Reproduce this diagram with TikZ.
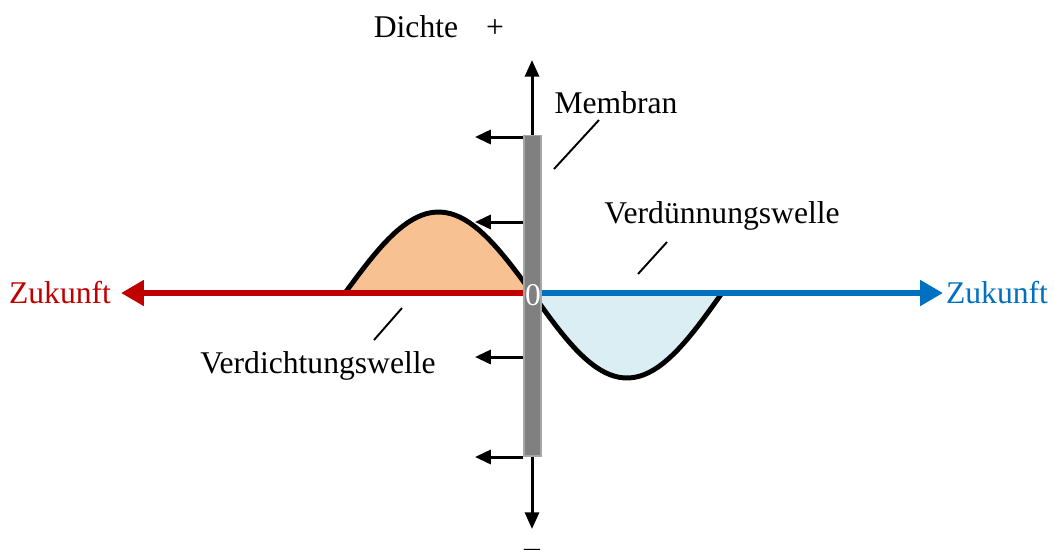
\documentclass[tikz,border=0pt]{standalone}
\usepackage{fontspec}
\setmainfont{Liberation Serif}
\usepackage{xcolor}
\usetikzlibrary{arrows.meta,positioning,calc}

\definecolor{pastred}{RGB}{192,0,0}
\definecolor{futblue}{RGB}{0,112,192}
\definecolor{humpfill}{RGB}{248,193,145}
\definecolor{dipfill}{RGB}{218,238,243}

\begin{document}
\begin{tikzpicture}[x=0.02cm, y=-0.02cm, every node/.style={font=\fontsize{18}{21}\selectfont, inner sep=0pt},
    timeline/.style={line width=3.4pt,-{Triangle[length=13pt,width=14pt]}},
    axis/.style={line width=1.7pt,{Triangle[length=9.5pt,width=8pt]}-{Triangle[length=9.5pt,width=8pt]}},
    push/.style={line width=1.7pt,-{Triangle[length=9pt,width=8pt]}},
    leader/.style={line width=1.1pt},
    wave/.style={line width=2.8pt,line join=round},
    membrane/.style={draw=gray!70,fill=gray,line width=0.6pt,minimum width=0.34cm,minimum height=6.42cm}]
    \useasboundingbox (0,0) rectangle (1054,549);

    % wave halves
    \fill[humpfill] plot[domain=0:180,samples=40] ({345+\x/180*187},{293-81*sin(\x)}) -- cycle;
    \fill[dipfill] plot[domain=0:180,samples=40] ({532+\x/180*190},{293+85*sin(\x)}) -- cycle;
    \draw[wave] plot[domain=0:180,samples=40] ({345+\x/180*187},{293-81*sin(\x)})
        -- plot[domain=0:180,samples=40] ({532+\x/180*190},{293+85*sin(\x)});

    % axes
    \coordinate (up) at (532,60);
    \coordinate (down) at (532,529);
    \coordinate (past) at (121,293);
    \coordinate (future) at (943,293);
    \draw[axis] (down) -- (up);
    \node[membrane] (mem) at (532.5,295.5) {};
    \draw[timeline,pastred] (mem.west |- past) -- (past);
    \draw[timeline,futblue] (mem.east |- future) -- (future);
    \node[white, anchor=base] (zero) at (533,305) {0};

    \foreach \y [count=\i] in {137,222,357,457}{
      \coordinate (p\i) at (475,\y);
      \draw[push] (mem.west |- p\i) -- (p\i);
    }

    % labels
    \node[anchor=base] (dichte) at (416,37) {Dichte};
    \node[anchor=base] (plus) at (495,37) {+};
    \node[anchor=base] (minus) at (532,557) {–};
    \node[anchor=base, pastred] (zleft) at (60,303) {Zukunft};
    \node[anchor=base, futblue] (zright) at (997,303) {Zukunft};
    \node[anchor=base] (memlab) at (616,113) {Membran};
    \node[anchor=base] (thin) at (722,223) {Verdünnungswelle};
    \node[anchor=base] (dense) at (318,373) {Verdichtungswelle};

    \coordinate (m1) at (554,169); \coordinate (m2) at (599,120);
    \coordinate (t1) at (638,274); \coordinate (t2) at (667,242);
    \coordinate (d1) at (374,340); \coordinate (d2) at (402,308);
    \draw[leader] (m1) -- (m2);
    \draw[leader] (t1) -- (t2);
    \draw[leader] (d1) -- (d2);
\end{tikzpicture}
\end{document}
